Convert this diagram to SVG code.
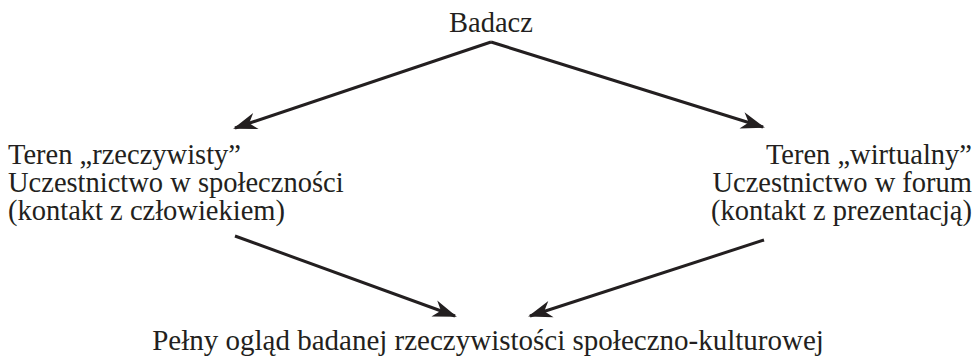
<svg xmlns="http://www.w3.org/2000/svg" width="977" height="357" viewBox="0 0 977 357">
  <style>
    .lbl { font-family: "Liberation Serif", "Times New Roman", serif; font-size: 28.5px; fill: #231f20; }
    .wide { font-size: 29px; }
    .edge { stroke: #231f20; stroke-width: 3; fill: none; }
  </style>
  <defs>
    <marker id="arrow" markerUnits="userSpaceOnUse" markerWidth="30" markerHeight="20" refX="0" refY="0" viewBox="-24 -10 28 20" orient="auto">
      <path d="M2,0 L-22,-8.5 L-15,0 L-22,8.5 Z" fill="#231f20"/>
    </marker>
  </defs>
  <rect width="977" height="357" fill="#ffffff"/>

  <g id="connectors">
    <path class="edge" d="M491,42 L235,128" marker-end="url(#arrow)"/>
    <path class="edge" d="M491,42 L763,127" marker-end="url(#arrow)"/>
    <path class="edge" d="M235,236 L455,316" marker-end="url(#arrow)"/>
    <path class="edge" d="M764,240 L530,316" marker-end="url(#arrow)"/>
  </g>

  <g id="node-badacz">
    <text class="lbl" x="491" y="32" text-anchor="middle">Badacz</text>
  </g>

  <g id="node-teren-rzeczywisty">
    <text class="lbl" x="8" y="164">Teren „rzeczywisty”</text>
    <text class="lbl" x="8" y="192">Uczestnictwo w społeczności</text>
    <text class="lbl" x="8" y="220">(kontakt z człowiekiem)</text>
  </g>

  <g id="node-teren-wirtualny">
    <text class="lbl" x="972" y="164" text-anchor="end">Teren „wirtualny”</text>
    <text class="lbl" x="972" y="192" text-anchor="end">Uczestnictwo w forum</text>
    <text class="lbl" x="972" y="220" text-anchor="end">(kontakt z prezentacją)</text>
  </g>

  <g id="node-pelny-oglad">
    <text class="lbl wide" x="488" y="350" text-anchor="middle">Pełny ogląd badanej rzeczywistości społeczno-kulturowej</text>
  </g>
</svg>
